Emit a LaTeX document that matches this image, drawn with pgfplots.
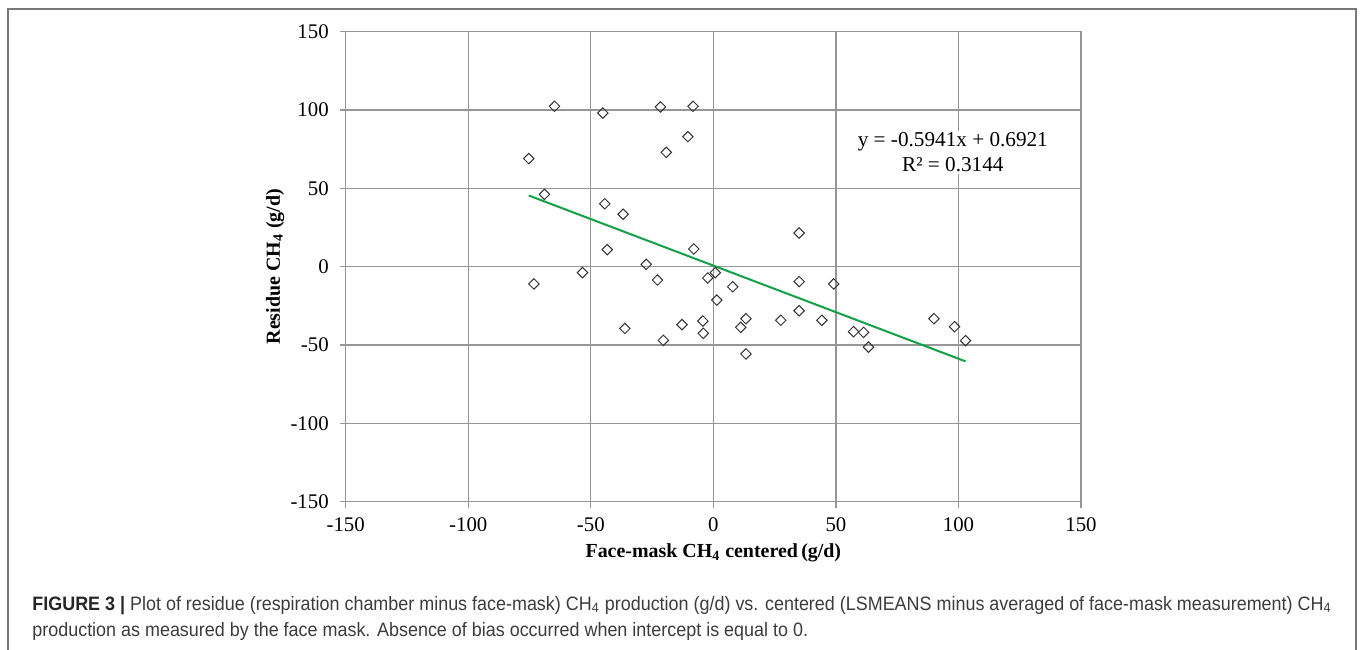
\documentclass[border=0pt]{standalone}
\usepackage{fontspec}
\setmainfont{Liberation Serif}
\newfontfamily\capfont[FakeStretch=0.925]{Liberation Sans}
\usepackage{pgfplots}
\pgfplotsset{compat=1.18}

\definecolor{gridgray}{RGB}{150,150,150}
\definecolor{trendgreen}{RGB}{20,160,70}
\definecolor{framegray}{RGB}{120,120,120}
\definecolor{captext}{RGB}{60,60,60}

\begin{document}
\begin{tikzpicture}
\useasboundingbox (0,0) rectangle (680bp,-325bp);
\draw[framegray, line width=0.9bp] (4bp,-330bp) -- (4bp,-4.5bp) -- (678bp,-4.5bp) -- (678bp,-330bp);

\begin{axis}[
    at={(172.85bp,-250.85bp)}, anchor=south west,
    scale only axis,
    width=367.65bp, height=235bp,
    xmin=-150, xmax=150, ymin=-150, ymax=150,
    xtick={-150,-100,...,150}, ytick={-150,-100,...,150},
    grid=major,
    grid style={gridgray, line width=0.6bp},
    axis line style={gridgray, line width=0.6bp},
    tick style={gridgray, line width=0.6bp},
    tick align=outside, major tick length=3bp,
    xtick pos=bottom, ytick pos=left,
    /pgf/number format/assume math mode=true,
    ticklabel style={font=\fontsize{10.4bp}{12bp}\selectfont},
    xticklabel style={yshift=-1.5bp},
    yticklabel style={xshift=-2bp},
    xlabel={\textbf{Face-mask CH\textsubscript{4} centered\,(g/d)}},
    ylabel={\textbf{Residue CH\textsubscript{4} (g/d)}},
    label style={font=\fontsize{10.6bp}{12bp}\selectfont},
    every axis x label/.style={at={(axis description cs:0.5,-0.109)}, anchor=center},
    every axis y label/.style={at={(axis description cs:-0.0961,0.5)}, anchor=center, rotate=90},
    clip=false,
]
\addplot[only marks, mark=square, mark size=1.85bp,
    mark options={rotate=45, draw=black!80, fill=white, line width=0.5bp}]
coordinates {
    (-64.8, 102.4) (-45.1, 98.1) (-21.6, 102.0) (-8.3, 102.4)
    (-10.4, 83.0) (-19.2, 73.0) (-75.3, 69.0) (-68.9, 46.2)
    (-44.3, 40.2) (-36.8, 33.5) (-8.0, 11.3) (-43.3, 10.9)
    (-27.4, 1.5) (-53.4, -3.8) (-73.2, -11.0) (-22.8, -8.5)
    (-2.3, -7.2) (0.8, -3.8) (7.9, -12.8) (35.0, 21.5)
    (35.0, -9.5) (1.4, -21.3) (-36.1, -39.4) (-12.8, -37.0)
    (-4.3, -34.7) (-4.1, -42.5) (-20.4, -47.0) (11.2, -38.7)
    (13.3, -33.2) (13.3, -55.7) (27.5, -34.2) (35.0, -28.1)
    (44.3, -34.2) (49.1, -11.0) (57.2, -41.5) (61.3, -41.9)
    (63.3, -51.3) (90.0, -33.2) (98.4, -38.3) (102.9, -47.2)
};
\addplot[trendgreen, line width=1bp] coordinates {(-75.3, 45.43) (102.9, -60.44)};
\node[align=center, font=\fontsize{10.6bp}{12.5bp}\selectfont, fill=white, inner sep=1bp]
    at (axis cs:97.7,73) {y = -0.5941x + 0.6921\\R² = 0.3144};
\end{axis}

\node[anchor=base west, inner sep=0pt, text=captext, font=\capfont\fontsize{9.7bp}{13bp}\selectfont] at (16bp,-305bp)
  {\textbf{\color{black!85}FIGURE 3 |} Plot of residue (respiration chamber minus face-mask) CH\textsubscript{4} production (g/d) vs. centered (LSMEANS minus averaged of face-mask measurement) CH\textsubscript{4}};
\node[anchor=base west, inner sep=0pt, text=captext, font=\capfont\fontsize{9.7bp}{13bp}\selectfont] at (16bp,-318bp)
  {production as measured by the face mask. Absence of bias occurred when intercept is equal to 0.};
\end{tikzpicture}
\end{document}
